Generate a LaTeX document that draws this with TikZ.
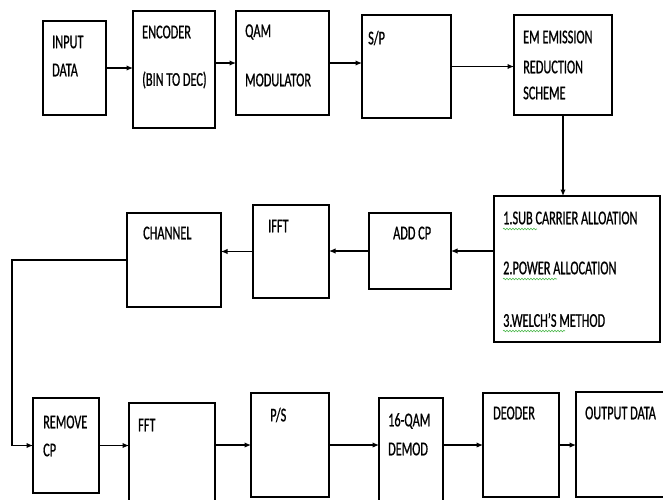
\documentclass[tikz,border=0pt]{standalone}
\usepackage{fontspec}
\setmainfont[FakeStretch=0.63, FakeBold=0.8]{Carlito}
\usepackage{tikz}
\usetikzlibrary{positioning, calc, arrows.meta, decorations.pathmorphing}

\begin{document}
\begin{tikzpicture}[x=1pt, y=-1pt]
  \tikzstyle{blk}=[draw, line width=1.2pt, inner sep=0pt, outer sep=0pt]
  \tikzstyle{lbl}=[anchor=west, inner sep=0pt, font=\fontsize{19.5}{21}\selectfont]
  \tikzstyle{arr}=[line width=1.2pt, -{Latex[length=6.5pt, width=5.5pt]}]
  \tikzstyle{squig}=[draw=green!60!black!70, line width=0.6pt, decorate, decoration={snake, amplitude=0.8pt, segment length=3pt}]

  \useasboundingbox (0,0) rectangle (663,499);
  \clip (0,0) rectangle (663,499);

  % transmitter chain
  \node (inp) at (74.5, 68) [blk, minimum width=63pt, minimum height=94pt] {};
  \node (enc) at (174, 69.5) [blk, minimum width=82pt, minimum height=117pt] {};
  \node (qam) at (282.5, 63) [blk, minimum width=93pt, minimum height=104pt] {};
  \node (sp) at (406.5, 66.5) [blk, minimum width=89pt, minimum height=103pt] {};
  \node (em) at (563, 65) [blk, minimum width=98pt, minimum height=100pt] {};

  \node (inpa) at (52, 42) [lbl] {INPUT};
  \node (inpb) at (52, 70) [lbl] {DATA};
  \node (enca) at (142, 32) [lbl] {ENCODER};
  \node (encb) at (142, 80) [lbl] {(BIN TO DEC)};
  \node (qama) at (245, 32) [lbl] {QAM};
  \node (qamb) at (245, 80) [lbl] {MODULATOR};
  \node (spa) at (368, 38) [lbl] {S/P};
  \node (ema) at (523, 37) [lbl] {EM EMISSION};
  \node (emb) at (523, 67) [lbl] {REDUCTION};
  \node (emc) at (523, 93) [lbl] {SCHEME};

  % middle row
  \node (alloc) at (577, 269) [blk, minimum width=166pt, minimum height=146pt] {};
  \node (addcp) at (410, 251) [blk, minimum width=82pt, minimum height=76pt] {};
  \node (ifft) at (291, 251.5) [blk, minimum width=76pt, minimum height=93pt] {};
  \node (chan) at (174, 260) [blk, minimum width=94pt, minimum height=94pt] {};

  \node (alloca) at (503, 218) [lbl] {1.SUB CARRIER ALLOATION};
  \node (allocb) at (503, 268) [lbl] {2.POWER ALLOCATION};
  \node (allocc) at (503, 320) [lbl] {3.WELCH’S METHOD};
  \draw[squig] (503, 229) -- (537, 229);
  \draw[squig] (503, 279) -- (557, 279);
  \draw[squig] (503, 331) -- (565, 331);
  \node (addcpa) at (393, 233) [lbl] {ADD CP};
  \node (iffta) at (268, 226) [lbl] {IFFT};
  \node (chana) at (143, 233) [lbl] {CHANNEL};

  % receiver chain
  \node (rmcp) at (66, 445.5) [blk, minimum width=66pt, minimum height=95pt] {};
  \node (fft) at (172, 456.5) [blk, minimum width=86pt, minimum height=107pt] {};
  \node (ps) at (290, 445) [blk, minimum width=78pt, minimum height=104pt] {};
  \node (demod) at (411, 454) [blk, minimum width=64pt, minimum height=112pt] {};
  \node (deod) at (521, 445) [blk, minimum width=76pt, minimum height=104pt] {};
  \node (out) at (625.5, 444.5) [blk, minimum width=99pt, minimum height=105pt] {};

  \node (rmcpa) at (43, 422) [lbl] {REMOVE};
  \node (rmcpb) at (43, 450) [lbl] {CP};
  \node (ffta) at (138, 425) [lbl] {FFT};
  \node (psa) at (270, 415) [lbl] {P/S};
  \node (demoda) at (388, 421) [lbl] {16-QAM};
  \node (demodb) at (388, 449) [lbl] {DEMOD};
  \node (deoda) at (493, 413) [lbl] {DEODER};
  \node (outa) at (585, 413) [lbl] {OUTPUT DATA};

  % connections
  \draw[arr] (inp.east) -- (inp.east -| enc.west);
  \draw[arr] (qam.west -| enc.east) -- (qam.west);
  \draw[arr] (qam.east) -- (qam.east -| sp.west);
  \draw[arr] (sp.east) -- (sp.east -| em.west);
  \draw[arr] (em.south) -- (em.south |- alloc.north);
  \draw[arr] (addcp.east -| alloc.west) -- (addcp.east);
  \draw[arr] (addcp.west) -- (addcp.west -| ifft.east);
  \draw[arr] (ifft.west) -- (ifft.west -| chan.east);
  \draw[arr] (chan.west) -- ++(-115, 0) |- (rmcp.west);
  \draw[arr] (rmcp.east) -- (rmcp.east -| fft.west);
  \draw[arr] (ps.west -| fft.east) -- (ps.west);
  \draw[arr] (ps.east) -- (ps.east -| demod.west);
  \draw[arr] (deod.west -| demod.east) -- (deod.west);
  \draw[arr] (deod.east) -- (deod.east -| out.west);
\end{tikzpicture}
\end{document}
